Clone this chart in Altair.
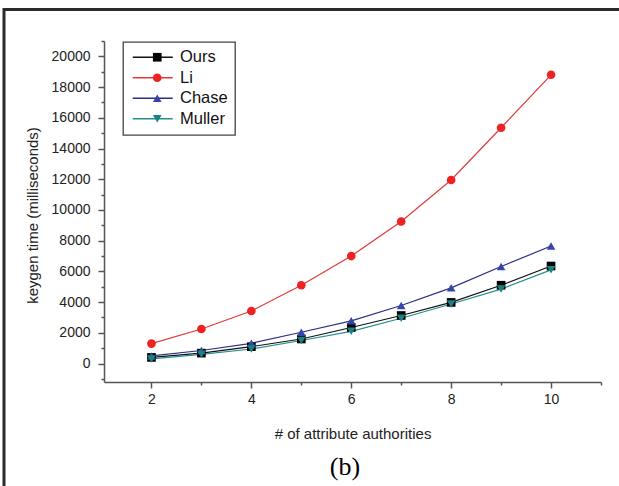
import altair as alt
import pandas as pd

# ---- data ----
n_aa = [2, 3, 4, 5, 6, 7, 8, 9, 10]
ours = [400, 680, 1100, 1600, 2350, 3130, 3980, 5100, 6350]
li = [1300, 2250, 3420, 5100, 7000, 9250, 11950, 15350, 18800]
chase = [500, 850, 1320, 2040, 2780, 3780, 4930, 6320, 7650]
muller = [300, 600, 950, 1500, 2100, 2950, 3880, 4850, 6100]

series = ["Ours", "Li", "Chase", "Muller"]
line_colors = ["#111111", "#e23a3a", "#2b2f85", "#239090"]
marker_colors = ["#000000", "#ee2222", "#3545a8", "#1a8282"]
shapes = ["square", "circle", "triangle-up", "triangle-down"]

x_ticks = list(range(2, 12))
y_ticks = list(range(-1000, 21001, 1000))

rows = []
for name, vals in zip(series, [ours, li, chase, muller]):
    for x, v in zip(n_aa, vals):
        rows.append({"n": x, "t": v, "series": name})
df = pd.DataFrame(rows)

W, H = 497, 341
L, T = 104, 41
FONT = "Liberation Sans"

x_enc = alt.X(
    "n:Q",
    scale=alt.Scale(domain=[1.05, 11], nice=False, zero=False),
    axis=alt.Axis(
        title="# of attribute authorities",
        values=x_ticks,
        labelExpr="datum.value % 2 == 0 ? datum.label : ''",
        tickSize={"condition": {"test": "datum.value % 2 == 0", "value": 6}, "value": 3},
        labelPadding=4,
        labelFontSize=14,
        titleFontSize=15,
        titleY=51,
        titleBaseline="middle",
        grid=False,
    ),
)
y_enc = alt.Y(
    "t:Q",
    scale=alt.Scale(domain=[-1200, 21000], nice=False, zero=False),
    axis=alt.Axis(
        title="keygen time (milliseconds)",
        values=y_ticks,
        format="d",
        labelExpr="(datum.value % 2000 == 0 && datum.value >= 0) ? datum.label : ''",
        tickSize={"condition": {"test": "datum.value % 2000 == 0", "value": 6}, "value": 3},
        labelPadding=8,
        labelFontSize=14,
        titleFontSize=15,
        titleX=-72,
        titleY=174,
        titleBaseline="middle",
        grid=False,
    ),
)

line_legend = alt.Legend(
    title=None, orient="none", legendX=19, legendY=1,
    symbolType="M-4.0,0L4.0,0", symbolSize=100, symbolStrokeWidth=1.3,
    symbolOffset=14.5, labelOffset=19,
    labelFont=FONT, labelFontSize=16.5, labelColor="#111111",
    padding=7, rowPadding=3.5, strokeColor="#444444",
)
point_legend = alt.Legend(
    title=None, orient="none", legendX=38, legendY=1,
    symbolSize=75, symbolStrokeWidth=0,
    labelFont=FONT, labelFontSize=16.5, labelExpr="' '",
    padding=7, rowPadding=3.5,
)

base = alt.Chart(df)
lines = base.mark_line(strokeWidth=1.2).encode(
    x=x_enc, y=y_enc,
    color=alt.Color("series:N", scale=alt.Scale(domain=series, range=line_colors), legend=line_legend),
    detail="series:N",
)
points = base.mark_point(filled=True, size=75, opacity=1).encode(
    x=x_enc, y=y_enc,
    color=alt.Color("series:N", scale=alt.Scale(domain=series, range=marker_colors), legend=point_legend),
    shape=alt.Shape("series:N", scale=alt.Scale(domain=series, range=shapes), legend=point_legend),
)

one = pd.DataFrame({"a": [0]})
top_border = alt.Chart(one).mark_rule(color="#2a2a2a", strokeWidth=3).encode(
    x=alt.value(3 - L), x2=alt.value(619 - L), y=alt.value(9.5 - T)
)
left_border = alt.Chart(one).mark_rule(color="#2a2a2a", strokeWidth=3).encode(
    x=alt.value(4 - L), y=alt.value(8 - T), y2=alt.value(486 - T)
)
label_b = alt.Chart(one).mark_text(
    text="(b)", font="Liberation Serif", fontSize=26, color="#000000", baseline="middle", align="center"
).encode(x=alt.value(345 - L), y=alt.value(467 - T))

chart = (
    alt.layer(lines, points, top_border, left_border, label_b)
    .resolve_scale(color="independent", shape="independent")
    .resolve_legend(color="independent", shape="independent")
    .properties(
        width=W, height=H,
        autosize=alt.AutoSizeParams(type="none"),
        padding={"left": L, "top": T, "right": 619 - L - W, "bottom": 486 - T - H},
        background="white",
    )
    .configure_view(stroke=None)
    .configure_axis(
        domainColor="#555555", domainWidth=1.5, tickColor="#555555", tickWidth=1.5,
        labelColor="#222222", titleColor="#222222", labelFont=FONT, titleFont=FONT,
        titleFontWeight="normal",
    )
    .configure_legend(strokeWidth=1.3)
)

chart.save("out.html", embed_options={"renderer": "svg", "actions": False})
